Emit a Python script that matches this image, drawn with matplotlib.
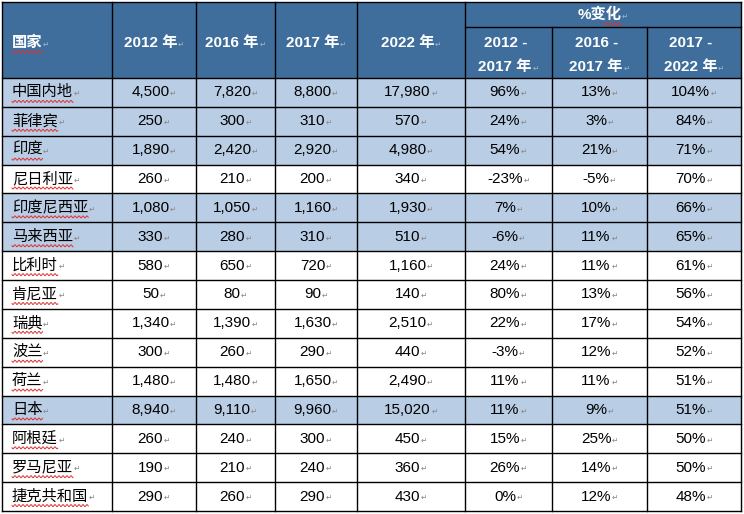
import matplotlib
matplotlib.use("Agg")
import numpy as np
import matplotlib.pyplot as plt
from matplotlib.patches import Rectangle

plt.rcParams['font.family'] = ['Liberation Sans', 'Noto Sans CJK SC', 'DejaVu Sans']

countries = ["中国内地", "菲律宾", "印度", "尼日利亚", "印度尼西亚", "马来西亚", "比利时",
             "肯尼亚", "瑞典", "波兰", "荷兰", "日本", "阿根廷", "罗马尼亚", "捷克共和国"]
y2012 = ["4,500", "250", "1,890", "260", "1,080", "330", "580", "50", "1,340", "300", "1,480",
         "8,940", "260", "190", "290"]
y2016 = ["7,820", "300", "2,420", "210", "1,050", "280", "650", "80", "1,390", "260", "1,480",
         "9,110", "240", "210", "260"]
y2017 = ["8,800", "310", "2,920", "200", "1,160", "310", "720", "90", "1,630", "290", "1,650",
         "9,960", "300", "240", "290"]
y2022 = ["17,980", "570", "4,980", "340", "1,930", "510", "1,160", "140", "2,510", "440", "2,490",
         "15,020", "450", "360", "430"]
chg_12_17 = ["96%", "24%", "54%", "-23%", "7%", "-6%", "24%", "80%", "22%", "-3%", "11%",
             "11%", "15%", "26%", "0%"]
chg_16_17 = ["13%", "3%", "21%", "-5%", "10%", "11%", "11%", "13%", "17%", "12%", "11%",
             "9%", "25%", "14%", "12%"]
chg_17_22 = ["104%", "84%", "71%", "70%", "66%", "65%", "61%", "56%", "54%", "52%", "51%",
             "51%", "50%", "50%", "48%"]
highlighted = ["中国内地", "菲律宾", "印度", "印度尼西亚", "马来西亚", "日本"]

header_main = ["国家", "2012 年", "2016 年", "2017 年", "2022 年"]
header_group = "%变化"
header_sub = [("2012 -", "2017 年"), ("2016 -", "2017 年"), ("2017 -", "2022 年")]

W, H = 744, 514
fig = plt.figure(figsize=(W / 100, H / 100), dpi=100)
ax = fig.add_axes([0, 0, 1, 1])
ax.set_xlim(0, W)
ax.set_ylim(H, 0)
ax.axis("off")

HEAD_BG = "#3F6E9C"
ROW_HL = "#B9CDE5"
xs = [2, 112, 196, 275, 357, 465, 552, 647, 741]
top, sub_y, head_bot, bottom = 2, 27, 78, 511
n = len(countries)
rh = (bottom - head_bot) / n

ax.add_patch(Rectangle((xs[0], top), xs[-1] - xs[0], head_bot - top, facecolor=HEAD_BG, edgecolor="none"))
for i, c in enumerate(countries):
    y0 = head_bot + i * rh
    col = ROW_HL if c in highlighted else "white"
    ax.add_patch(Rectangle((xs[0], y0), xs[-1] - xs[0], rh, facecolor=col, edgecolor="none"))

LW = 1.0
ax.plot([xs[0], xs[-1]], [top, top], color="black", lw=LW)
ax.plot([xs[5], xs[-1]], [sub_y, sub_y], color="black", lw=LW)
for i in range(n + 1):
    y = head_bot + i * rh
    ax.plot([xs[0], xs[-1]], [y, y], color="black", lw=LW)
for j, x in enumerate(xs):
    if j in (6, 7):
        ax.plot([x, x], [sub_y, bottom], color="black", lw=LW)
    else:
        ax.plot([x, x], [top, bottom], color="black", lw=LW)

MARK = "\u21b5"
hfs = 11
bfs = 11

renderer = fig.canvas.get_renderer()


def squiggle(x0, x1, y):
    xx = np.linspace(x0, x1, max(int((x1 - x0) * 2), 2))
    yy = y + 1.0 * np.sin((xx - x0) * np.pi / 2.0)
    ax.plot(xx, yy, color="#E03030", lw=0.7)


def put(x, y, s, ha="center", color="black", weight="normal", fs=bfs, mark_color="#888888",
        wavy=None):
    t = ax.text(x, y, s, ha="left", va="center", color=color, fontsize=fs, fontweight=weight)
    bb = t.get_window_extent(renderer=renderer)
    wpx = bb.width
    total = wpx + 7
    x0 = x - total / 2 if ha == "center" else x
    t.set_x(x0)
    ax.text(x0 + wpx + 0.5, y + 1, MARK, ha="left", va="center", color=mark_color,
            fontsize=5.5, family="DejaVu Sans")
    if wavy is not None:
        frac0, frac1 = wavy
        squiggle(x0 + wpx * frac0, x0 + wpx * frac1, y + 9)


hy = 43
put(12, hy, header_main[0], ha="left", color="white", weight="bold", fs=hfs, mark_color="#9fb5cc",
    wavy=(0, 1))
for j in range(1, 5):
    put((xs[j] + xs[j + 1]) / 2, hy, header_main[j], color="white", weight="bold", fs=hfs,
        mark_color="#9fb5cc")
put((xs[5] + xs[-1]) / 2, 15, header_group, color="white", weight="bold", fs=hfs, mark_color="#9fb5cc",
    wavy=(0.6, 1))
for k, (l1, l2) in enumerate(header_sub):
    cx = (xs[5 + k] + xs[6 + k]) / 2
    ax.text(cx - 3, 43, l1, ha="center", va="center", color="white", fontsize=hfs, fontweight="bold")
    put(cx, 67, l2, color="white", weight="bold", fs=hfs, mark_color="#9fb5cc")

cols = [y2012, y2016, y2017, y2022, chg_12_17, chg_16_17, chg_17_22]
for i in range(n):
    yc = head_bot + (i + 0.5) * rh
    put(12, yc, countries[i], ha="left", wavy=(0, 1))
    for j, colvals in enumerate(cols):
        cx = (xs[j + 1] + xs[j + 2]) / 2
        put(cx, yc, colvals[i])

fig.savefig("out.png", dpi=100)
